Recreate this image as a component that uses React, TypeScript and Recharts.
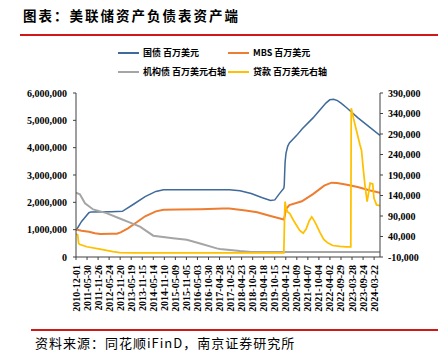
import React from 'react';
import { LineChart, Line, XAxis, YAxis } from 'recharts';

// ---------- tick labels ----------
const xTickLabels = [
  '2010-12-01', '2011-05-30', '2011-11-26', '2012-05-24', '2012-11-20', '2013-05-19', '2013-11-15',
  '2014-05-14', '2014-11-10', '2015-05-09', '2015-11-05', '2016-05-03', '2016-10-30', '2017-04-28',
  '2017-10-25', '2018-04-23', '2018-10-20', '2019-04-18', '2019-10-15', '2020-04-12', '2020-10-09',
  '2021-04-07', '2021-10-04', '2022-04-02', '2022-09-29', '2023-03-28', '2023-09-24', '2024-03-22',
];
const leftTicks = [0, 1000000, 2000000, 3000000, 4000000, 5000000, 6000000];
const rightTicks = [-10000, 40000, 90000, 140000, 190000, 240000, 290000, 340000, 390000];
const xStart = '2010-12-01';
const xEnd = '2024-06-26';

// ---------- series: 国债 (百万美元, left axis) ----------
const treasuryDates = [
  '2010-12-01', '2011-03-02', '2011-06-29', '2011-08-03', '2012-06-27', '2012-12-26', '2013-06-26',
  '2014-01-01', '2014-06-25', '2014-10-29', '2017-10-04', '2018-03-28', '2018-09-26', '2019-03-27',
  '2019-08-07', '2019-10-16', '2019-12-25', '2020-03-11', '2020-03-18', '2020-03-25', '2020-04-01',
  '2020-04-15', '2020-05-13', '2020-06-10', '2020-10-07', '2021-01-06', '2021-06-30', '2021-10-27',
  '2022-01-26', '2022-03-30', '2022-06-01', '2022-08-03', '2022-10-05', '2023-01-04', '2023-06-28',
  '2024-01-03', '2024-06-26',
];
const treasuryValues = [
  970000, 1300000, 1620000, 1650000, 1660000, 1670000, 1930000,
  2210000, 2400000, 2460000, 2460000, 2420000, 2320000, 2170000,
  2070000, 2090000, 2300000, 2520000, 2630000, 3080000, 3470000,
  3790000, 4050000, 4170000, 4450000, 4690000, 5090000, 5400000,
  5630000, 5750000, 5770000, 5720000, 5620000, 5450000, 5100000,
  4760000, 4450000,
];

// ---------- series: MBS (百万美元, left axis) ----------
const mbsDates = [
  '2010-12-01', '2011-03-02', '2011-06-29', '2011-10-05', '2012-01-04', '2012-06-27', '2012-09-26',
  '2012-11-28', '2013-03-27', '2013-08-28', '2014-01-01', '2014-06-25', '2014-10-29', '2015-06-24',
  '2016-06-29', '2017-06-28', '2017-10-04', '2018-06-27', '2019-01-02', '2019-08-07', '2020-03-11',
  '2020-03-25', '2020-04-15', '2020-06-10', '2020-12-30', '2021-06-30', '2021-12-29', '2022-04-27',
  '2022-07-27', '2023-01-04', '2023-06-28', '2024-01-03', '2024-06-26',
];
const mbsValues = [
  1010000, 960000, 920000, 870000, 840000, 850000, 850000,
  900000, 1050000, 1290000, 1490000, 1670000, 1730000, 1740000,
  1750000, 1770000, 1770000, 1700000, 1640000, 1500000, 1370000,
  1480000, 1750000, 1900000, 2040000, 2300000, 2610000, 2720000,
  2710000, 2640000, 2560000, 2440000, 2350000,
];

// ---------- series: 机构债 (百万美元, right axis) ----------
const agencyDates = [
  '2010-12-01', '2011-02-02', '2011-04-27', '2011-09-07', '2012-04-11', '2012-11-14', '2013-05-01',
  '2013-10-09', '2014-05-14', '2015-04-01', '2015-11-11', '2016-06-15', '2017-03-15', '2017-05-03',
  '2018-03-28', '2018-09-26', '2024-06-26',
];
const agencyValues = [
  147000, 143000, 121000, 106000, 97000, 84000, 74000,
  64000, 42000, 36000, 32000, 23000, 11000, 9500,
  4500, 2400, 2300,
];

// ---------- series: 贷款 (百万美元, right axis) ----------
const loanDates = [
  '2010-12-01', '2010-12-29', '2011-01-12', '2011-01-26', '2011-05-25', '2011-12-28', '2012-07-25',
  '2012-11-14', '2013-06-26', '2020-03-11', '2020-03-25', '2020-04-01', '2020-04-15', '2020-05-13',
  '2020-06-17', '2020-08-05', '2020-09-23', '2020-11-25', '2021-01-20', '2021-03-10', '2021-04-28',
  '2021-06-09', '2021-07-14', '2021-09-01', '2021-10-20', '2021-12-22', '2022-03-02', '2022-05-18',
  '2022-09-14', '2022-12-21', '2023-03-08', '2023-03-15', '2023-04-26', '2023-06-14', '2023-08-02',
  '2023-08-30', '2023-09-27', '2023-10-25', '2023-11-29', '2023-12-27', '2024-01-17', '2024-02-28',
  '2024-03-20', '2024-05-01', '2024-06-26',
];
const loanValues = [
  46000, 44000, 24000, 21000, 15000, 9000, 3000,
  600, 200, 300, 100000, 125000, 110000, 100000,
  96000, 82000, 70000, 55000, 48000, 58000, 78000,
  88000, 80000, 66000, 50000, 33000, 24000, 18000,
  16000, 15000, 15000, 353000, 325000, 295000, 265000,
  250000, 205000, 165000, 125000, 150000, 170000, 168000,
  133000, 117000, 115000,
];

const seriesNames = ['国债 百万美元', 'MBS 百万美元', '机构债 百万美元右轴', '贷款 百万美元右轴'];
const seriesColors = ['#3F6A9A', '#ED7D31', '#A5A5A5', '#FFC000'];

const dayOf = (s: string) => Date.parse(s + 'T00:00:00Z') / 86400000;
const fmtDay = (t: number) => new Date(Math.round(t) * 86400000).toISOString().slice(0, 10);

function buildTable() {
  const map = new Map<number, any>();
  const add = (dates: string[], values: number[], key: string) => {
    dates.forEach((d, i) => {
      const t = dayOf(d);
      const row = map.get(t) ?? { t };
      row[key] = values[i];
      map.set(t, row);
    });
  };
  add(treasuryDates, treasuryValues, 'treasury');
  add(mbsDates, mbsValues, 'mbs');
  add(agencyDates, agencyValues, 'agency');
  add(loanDates, loanValues, 'loans');
  return Array.from(map.values()).sort((a, b) => a.t - b.t);
}

const table = buildTable();
const xTicks = xTickLabels.map(dayOf);

const tickFont = { fontFamily: "'Liberation Serif', serif", fontWeight: 700, fontSize: 10, fill: '#000' };
const cjk = "'Noto Sans CJK SC', sans-serif";

const XTick = (props: any) => {
  const { x, y, payload } = props;
  return (
    <text
      x={x}
      y={y}
      transform={`rotate(-90, ${x}, ${y})`}
      textAnchor="end"
      dy="0.35em"
      style={tickFont as any}
    >
      {fmtDay(payload.value)}
    </text>
  );
};

const fmtNum = (v: number) => v.toLocaleString('en-US');

const LegendRow = ({ items, top }: { items: number[]; top: number }) => (
  <>
    {items.map((idx, k) => {
      const left = k === 0 ? 118 : 228;
      return (
        <div
          key={idx}
          style={{ position: 'absolute', left, top, height: 12, display: 'flex', alignItems: 'center' }}
        >
          <div style={{ width: 21, height: 2, background: seriesColors[idx], marginRight: 4 }} />
          <span
            style={{ fontFamily: cjk, fontWeight: 700, fontSize: 9, color: '#000', whiteSpace: 'nowrap', lineHeight: '12px' }}
          >
            {seriesNames[idx]}
          </span>
        </div>
      );
    })}
  </>
);

export default function App() {
  return (
    <div style={{ position: 'absolute', left: 0, top: 0, width: 438, height: 359, background: '#fff', overflow: 'hidden' }}>
      <div
        style={{
          position: 'absolute', left: 23, top: 6, fontFamily: cjk, fontWeight: 700, fontSize: 13.5,
          letterSpacing: 2, color: '#000', lineHeight: '18px', whiteSpace: 'nowrap',
        }}
      >
        图表：美联储资产负债表资产端
      </div>
      <div style={{ position: 'absolute', left: 20, top: 34, width: 418, height: 1.5, background: '#D01818' }} />

      <LineChart
        width={438}
        height={359}
        data={table}
        margin={{ top: 93, right: 0, bottom: 42, left: 0 }}
      >
        <XAxis
          dataKey="t"
          type="number"
          domain={[dayOf(xStart), dayOf(xEnd)]}
          ticks={xTicks}
          interval={0}
          height={60}
          tickSize={3}
          tickMargin={5}
          tick={<XTick />}
          axisLine={{ stroke: '#404040' }}
          tickLine={{ stroke: '#404040' }}
          allowDataOverflow
        />
        <YAxis
          yAxisId="left"
          orientation="left"
          width={76}
          domain={[0, 6000000]}
          ticks={leftTicks}
          interval={0}
          tickSize={3}
          tickMargin={6}
          tickFormatter={fmtNum}
          tick={tickFont}
          axisLine={{ stroke: '#404040' }}
          tickLine={{ stroke: '#404040' }}
          allowDataOverflow
        />
        <YAxis
          yAxisId="right"
          orientation="right"
          width={58}
          domain={[-10000, 390000]}
          ticks={rightTicks}
          interval={0}
          tickSize={3}
          tickMargin={5}
          tickFormatter={fmtNum}
          tick={tickFont}
          axisLine={{ stroke: '#404040' }}
          tickLine={{ stroke: '#404040' }}
          allowDataOverflow
        />
        <Line yAxisId="left" dataKey="treasury" type="linear" stroke={seriesColors[0]} strokeWidth={1.5}
          dot={false} activeDot={false} connectNulls isAnimationActive={false} name={seriesNames[0]} />
        <Line yAxisId="left" dataKey="mbs" type="linear" stroke={seriesColors[1]} strokeWidth={2}
          dot={false} activeDot={false} connectNulls isAnimationActive={false} name={seriesNames[1]} />
        <Line yAxisId="right" dataKey="agency" type="linear" stroke={seriesColors[2]} strokeWidth={2}
          dot={false} activeDot={false} connectNulls isAnimationActive={false} name={seriesNames[2]} />
        <Line yAxisId="right" dataKey="loans" type="linear" stroke={seriesColors[3]} strokeWidth={1.75}
          dot={false} activeDot={false} connectNulls isAnimationActive={false} name={seriesNames[3]} />
      </LineChart>

      <LegendRow items={[0, 1]} top={47} />
      <LegendRow items={[2, 3]} top={66} />

      <div style={{ position: 'absolute', left: 31, top: 329, width: 407, height: 1.5, background: '#D01818' }} />
      <div
        style={{
          position: 'absolute', left: 35, top: 335, fontFamily: cjk, fontSize: 13, letterSpacing: 1,
          color: '#000', lineHeight: '16px', whiteSpace: 'nowrap',
        }}
      >
        资料来源：同花顺iFinD，南京证券研究所
      </div>
    </div>
  );
}
